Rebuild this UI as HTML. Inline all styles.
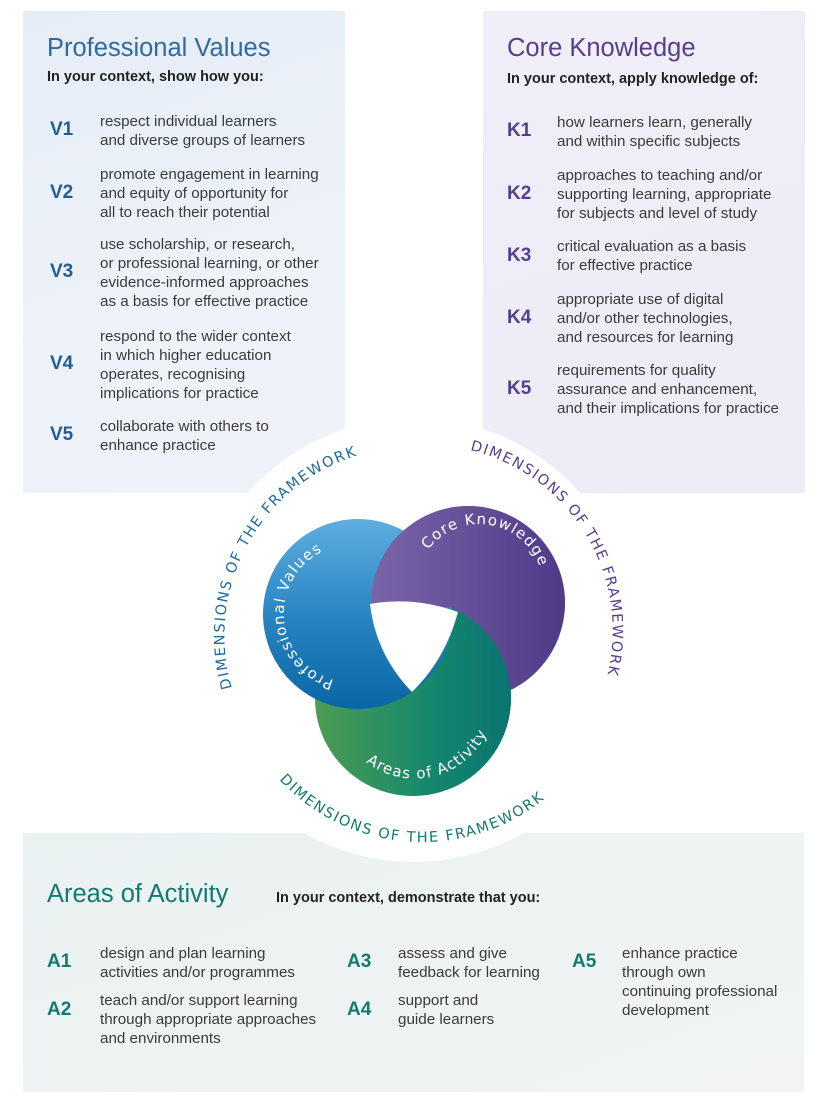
<!DOCTYPE html>
<html><head><meta charset="utf-8"><style>
*{margin:0;padding:0;box-sizing:border-box}
body{width:824px;height:1117px;background:#fff;position:relative;overflow:hidden;font-family:"Liberation Sans",Arial,sans-serif;color:#333}
.p{position:absolute}
.t{position:absolute;font-size:15.2px;line-height:19px;color:#3a3a3a;white-space:nowrap}
.c{position:absolute;font-weight:bold;font-size:19px;line-height:22px}
.h{position:absolute;font-size:25.5px;line-height:28px}
.s{position:absolute;font-weight:bold;font-size:14.5px;color:#222;white-space:nowrap}
.v{color:#1f5f95}.k{color:#553f8d}.a{color:#137a70}
</style></head><body>
<div class="p" style="left:23px;top:11px;width:322px;height:482px;background:linear-gradient(160deg,#e6edf7,#eef2f9 60%,#eff2f8)"></div>
<div class="p" style="left:483px;top:11px;width:322px;height:482px;background:linear-gradient(160deg,#f0eef6,#edebf3)"></div>
<div class="p" style="left:23px;top:833px;width:781px;height:259px;background:linear-gradient(160deg,#eaf1f1,#f2f4f5)"></div>
<div class="p" style="left:192px;top:418px;width:444px;height:444px;border-radius:50%;background:#fff"></div>

<div class="h v" style="left:47px;top:34px;color:#2f6aa0">Professional Values</div>
<div class="s" style="left:47px;top:69px">In your context, show how you:</div>
<div class="c v" style="left:50px;top:119px">V1</div>
<div class="t" style="left:100px;top:112px">respect individual learners<br>and diverse groups of learners</div>
<div class="c v" style="left:50px;top:182px">V2</div>
<div class="t" style="left:100px;top:165px">promote engagement in learning<br>and equity of opportunity for<br>all to reach their potential</div>
<div class="c v" style="left:50px;top:261px">V3</div>
<div class="t" style="left:100px;top:235px">use scholarship, or research,<br>or professional learning, or other<br>evidence-informed approaches<br>as a basis for effective practice</div>
<div class="c v" style="left:50px;top:353px">V4</div>
<div class="t" style="left:100px;top:327px">respond to the wider context<br>in which higher education<br>operates, recognising<br>implications for practice</div>
<div class="c v" style="left:50px;top:424px">V5</div>
<div class="t" style="left:100px;top:417px">collaborate with others to<br>enhance practice</div>

<div class="h k" style="left:507px;top:34px">Core Knowledge</div>
<div class="s" style="left:507px;top:71px">In your context, apply knowledge of:</div>
<div class="c k" style="left:507px;top:120px">K1</div>
<div class="t" style="left:557px;top:113px">how learners learn, generally<br>and within specific subjects</div>
<div class="c k" style="left:507px;top:183px">K2</div>
<div class="t" style="left:557px;top:166px">approaches to teaching and/or<br>supporting learning, appropriate<br>for subjects and level of study</div>
<div class="c k" style="left:507px;top:245px">K3</div>
<div class="t" style="left:557px;top:237px">critical evaluation as a basis<br>for effective practice</div>
<div class="c k" style="left:507px;top:307px">K4</div>
<div class="t" style="left:557px;top:290px">appropriate use of digital<br>and/or other technologies,<br>and resources for learning</div>
<div class="c k" style="left:507px;top:378px">K5</div>
<div class="t" style="left:557px;top:361px">requirements for quality<br>assurance and enhancement,<br>and their implications for practice</div>

<div class="h a" style="left:47px;top:880px">Areas of Activity</div>
<div class="s" style="left:276px;top:890px">In your context, demonstrate that you:</div>
<div class="c a" style="left:47px;top:951px">A1</div>
<div class="t" style="left:100px;top:944px">design and plan learning<br>activities and/or programmes</div>
<div class="c a" style="left:47px;top:999px">A2</div>
<div class="t" style="left:100px;top:991px">teach and/or support learning<br>through appropriate approaches<br>and environments</div>
<div class="c a" style="left:347px;top:951px">A3</div>
<div class="t" style="left:398px;top:944px">assess and give<br>feedback for learning</div>
<div class="c a" style="left:347px;top:999px">A4</div>
<div class="t" style="left:398px;top:991px">support and<br>guide learners</div>
<div class="c a" style="left:572px;top:951px">A5</div>
<div class="t" style="left:622px;top:944px">enhance practice<br>through own<br>continuing professional<br>development</div>

<svg class="p" style="left:0;top:0" width="824" height="1117" viewBox="0 0 824 1117">
<defs>
<linearGradient id="gb" x1="0" y1="0" x2="0" y2="1"><stop offset="0" stop-color="#5eaee0"/><stop offset="0.5" stop-color="#2a86c2"/><stop offset="1" stop-color="#0a66a4"/></linearGradient>
<linearGradient id="gp" x1="0" y1="0" x2="1" y2="0"><stop offset="0" stop-color="#7b65a9"/><stop offset="1" stop-color="#4f3a88"/></linearGradient>
<linearGradient id="gg" x1="0" y1="0" x2="1" y2="0"><stop offset="0" stop-color="#4d9c52"/><stop offset="0.6" stop-color="#14876e"/><stop offset="1" stop-color="#0b7470"/></linearGradient>
<clipPath id="ctop"><rect x="0" y="0" width="824" height="607"/></clipPath>
<clipPath id="cright"><rect x="452" y="0" width="400" height="1117"/></clipPath>
<path id="aL" d="M 232 688 A 188 188 0 0 1 370 452"/>
<path id="aR" d="M 470 450 A 186 186 0 0 1 603 690"/>
<path id="aB" d="M 275 775 A 195 195 0 0 0 560 785"/>
<path id="iP" d="M 334 680 A 68 68 0 1 1 372 547"/>
<path id="iK" d="M 428 550 A 64 64 0 0 1 536 618"/>
<path id="iA" d="M 366 762 A 80 80 0 0 0 494 688"/>
</defs>
<circle cx="413" cy="698" r="98" fill="url(#gg)"/>
<circle cx="358" cy="614" r="95" fill="url(#gb)"/>
<circle cx="468" cy="603" r="97" fill="url(#gp)" clip-path="url(#ctop)"/>
<circle cx="468" cy="603" r="97" fill="url(#gp)" clip-path="url(#cright)"/>
<circle cx="413" cy="698" r="98" fill="url(#gg)" clip-path="url(#cright)"/>
<path d="M 370 604 Q 414 596 458 612 Q 445 660 412 692 Q 376 655 370 604 Z" fill="#fff"/>
<g font-family="DejaVu Sans, sans-serif" font-size="14.5" letter-spacing="1.6">
<text fill="#1f6aa0"><textPath href="#aL">DIMENSIONS OF THE FRAMEWORK</textPath></text>
<text fill="#553f8d"><textPath href="#aR">DIMENSIONS OF THE FRAMEWORK</textPath></text>
<text fill="#137a70"><textPath href="#aB" startOffset="2%">DIMENSIONS OF THE FRAMEWORK</textPath></text>
</g>
<g font-family="DejaVu Sans, sans-serif" font-size="15" letter-spacing="1.2" fill="#fff">
<text><textPath href="#iP">Professional Values</textPath></text>
<text><textPath href="#iK">Core Knowledge</textPath></text>
<text><textPath href="#iA">Areas of Activity</textPath></text>
</g>
</svg>
</body></html>
